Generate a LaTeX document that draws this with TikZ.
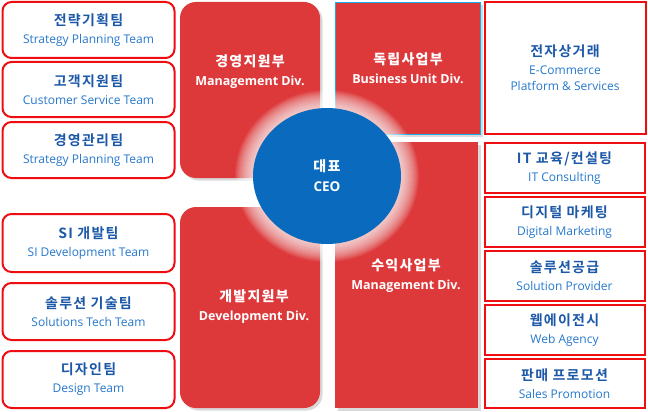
\documentclass[tikz,border=0pt]{standalone}
\usepackage{fontspec}
\setmainfont{Open Sans}
\newfontfamily\kobold{Noto Sans CJK KR Bold}[LetterSpace=9]
\usetikzlibrary{shapes.geometric,shadows}
\definecolor{divred}{RGB}{221,57,59}
\definecolor{boxred}{RGB}{238,14,18}
\definecolor{ceoblue}{RGB}{10,106,190}
\definecolor{unitcyan}{RGB}{22,176,232}
\definecolor{koblue}{RGB}{28,88,168}
\definecolor{enblue}{RGB}{38,120,204}
\newcommand{\kotitle}[1]{{\kobold\fontsize{14}{18}\selectfont #1}}
\newcommand{\ensub}[1]{{\color{enblue}#1}}
\tikzset{
  teambox/.style={draw=boxred, line width=2pt, rounded corners=9pt, fill=white, minimum width=172pt, inner sep=0pt, align=center, text=koblue, font=\fontsize{12}{18}\selectfont},
  svcbox/.style={draw=boxred, line width=2pt, fill=white, minimum width=160pt, inner sep=0pt, align=center, text=koblue, font=\fontsize{12}{18}\selectfont},
  divbox/.style={fill=divred, inner sep=0pt, drop shadow={shadow xshift=2.5pt, shadow yshift=-2.5pt, opacity=.3}},
  divlabel/.style={text=white, align=center, font=\bfseries\fontsize{12.5}{19}\selectfont},
  ceonode/.style={ellipse, fill=ceoblue, minimum width=148pt, minimum height=136pt, inner sep=0pt, text=white, align=center, font=\bfseries\fontsize{13.5}{20}\selectfont}
}
\newcommand{\divko}[1]{{\kobold\fontsize{14}{19}\selectfont #1}}
\begin{document}
\begin{tikzpicture}[x=1pt, y=-1pt]
  \useasboundingbox (0,0) rectangle (648,412);

  % divisions
  \node[divbox, rounded corners=16pt, minimum width=140pt, minimum height=176pt] (mgmt) at (250,90) {};
  \node[divbox, rounded corners=16pt, minimum width=140pt, minimum height=201pt] (dev) at (250,307.5) {};
  \node[divbox, draw=unitcyan, line width=1.8pt, minimum width=145pt, minimum height=132pt] (unit) at (408,68.5) {};
  \node[divbox, minimum width=143pt, minimum height=266pt] (revenue) at (406.5,275) {};

  \node[divlabel] (mgmtlbl) at (250,72) {\divko{경영지원부}\\Management Div.};
  \node[divlabel] (unitlbl) at (408,68) {\divko{독립사업부}\\Business Unit Div.};
  \node[divlabel] (devlbl) at (254,307) {\divko{개발지원부}\\Development Div.};
  \node[divlabel] (revlbl) at (406,276) {\divko{수익사업부}\\Management Div.};

  % teams on the left
  \node[teambox, minimum height=56pt] (strat) at (88.5,30) {\kotitle{전략기획팀}\\\ensub{Strategy Planning Team}};
  \node[teambox, minimum height=55pt] (cust) at (88.5,89.5) {\kotitle{고객지원팀}\\\ensub{Customer Service Team}};
  \node[teambox, minimum height=56pt] (mgmtteam) at (88.5,150) {\kotitle{경영관리팀}\\\ensub{Strategy Planning Team}};
  \node[teambox, minimum height=58pt] (sidev) at (88.5,243) {\kotitle{SI 개발팀}\\\ensub{SI Development Team}};
  \node[teambox, minimum height=57pt] (soltech) at (88.5,311.5) {\kotitle{솔루션 기술팀}\\\ensub{Solutions Tech Team}};
  \node[teambox, minimum height=57pt] (design) at (88.5,379.5) {\kotitle{디자인팀}\\\ensub{Design Team}};

  % services on the right
  \node[svcbox, minimum width=161pt, minimum height=131pt] (ecom) at (565,68) {\kotitle{전자상거래}\\\ensub{E-Commerce}\\[-2pt]\ensub{Platform \& Services}};
  \node[svcbox, minimum height=50pt] (itcons) at (564.5,168) {\kotitle{IT 교육/컨설팅}\\\ensub{IT Consulting}};
  \node[svcbox, minimum height=50pt] (digital) at (564.5,222) {\kotitle{디지털 마케팅}\\\ensub{Digital Marketing}};
  \node[svcbox, minimum height=50pt] (solprov) at (564.5,276) {\kotitle{솔루션공급}\\\ensub{Solution Provider}};
  \node[svcbox, minimum height=50pt] (webag) at (564.5,330) {\kotitle{웹에이전시}\\\ensub{Web Agency}};
  \node[svcbox, minimum height=49pt] (sales) at (564.5,383.5) {\kotitle{판매 프로모션}\\\ensub{Sales Promotion}};

  % ceo with soft glow
  \coordinate (ceopos) at (327,176);
  \foreach \g in {18,17,...,1}
    \fill[white, opacity=0.07] (ceopos) ellipse [x radius=74pt+\g pt, y radius=68pt+\g pt];
  \node[ceonode] (ceo) at (ceopos) {\divko{대표}\\CEO};
\end{tikzpicture}
\end{document}
